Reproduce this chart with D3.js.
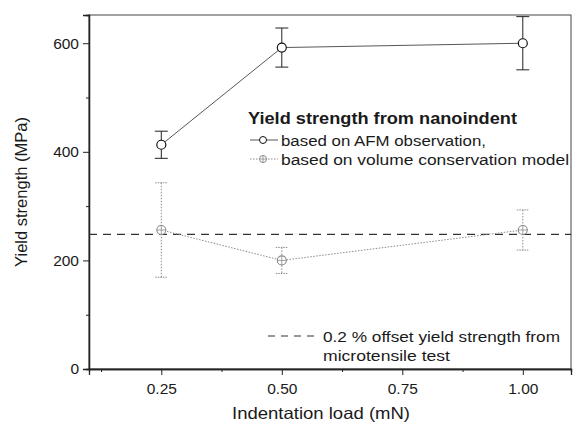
<!DOCTYPE html>
<html><head><meta charset="utf-8">
<script src="https://cdn.jsdelivr.net/npm/d3@7/dist/d3.min.js"></script>
<style>body{margin:0;background:#fff}svg{display:block}text{font-family:"Liberation Sans",Arial,sans-serif;fill:#1a1a1a}</style>
</head><body><svg id="c" width="575" height="432"></svg>
<script>
const loads = [0.25, 0.50, 1.00];
const afmValues = [413, 592, 600];
const afmErrors = [25, 36, 49];
const volValues = [256, 200, 256];
const volErrors = [87, 24, 37];
const tensileYield = 248;
const xTicks = [0.25, 0.50, 0.75, 1.00];
const xMinorTicks = [0.125, 0.375, 0.625, 0.875];
const yTicks = [0, 200, 400, 600];
const yMinorTicks = [100, 300, 500];
const legendTitle = "Yield strength from nanoindent";
const seriesNames = ["based on AFM observation,", "based on volume conservation model"];
const refNames = ["0.2 % offset yield strength from", "microtensile test"];

const W = 575, H = 432, m = {l: 89, r: 4, t: 15, b: 63};
const svg = d3.select("#c");
const x = d3.scaleLinear().domain([0.1, 1.1]).range([m.l, W - m.r]);
const y = d3.scaleLinear().domain([0, 652]).range([H - m.b, m.t]);

// frame
svg.append("rect").attr("x", m.l).attr("y", m.t).attr("width", W - m.r - m.l).attr("height", H - m.b - m.t)
  .attr("fill", "none").attr("stroke", "#444").attr("stroke-width", 1);

// axes
const xAx = svg.append("g").attr("transform", `translate(0,${H - m.b})`)
  .call(d3.axisBottom(x).tickValues(xTicks).tickFormat(d3.format(".2f")).tickSize(6).tickPadding(8));
const xMin = svg.append("g").attr("transform", `translate(0,${H - m.b})`)
  .call(d3.axisBottom(x).tickValues(xMinorTicks).tickFormat("").tickSize(3));
const yAx = svg.append("g").attr("transform", `translate(${m.l},0)`)
  .call(d3.axisLeft(y).tickValues(yTicks).tickSize(6).tickPadding(4));
const yMin = svg.append("g").attr("transform", `translate(${m.l},0)`)
  .call(d3.axisLeft(y).tickValues(yMinorTicks).tickFormat("").tickSize(3));
[xAx, xMin, yAx, yMin].forEach(g => {
  g.select(".domain").attr("stroke", "#222").attr("stroke-width", 1.3);
  g.selectAll(".tick line").attr("stroke", "#222");
  g.selectAll("text").style("font-size", "15.5px").attr("fill", "#1a1a1a");
});

// axis titles
svg.append("text").attr("x", 232).attr("y", 419).attr("textLength", 178).attr("lengthAdjust", "spacingAndGlyphs")
  .style("font-size", "16.5px").text("Indentation load (mN)");
svg.append("text").attr("transform", `translate(27,${(m.t + H - m.b) / 2}) rotate(-90)`)
  .attr("text-anchor", "middle").style("font-size", "16.5px").text("Yield strength (MPa)");

// reference dashed line
svg.append("line").attr("x1", m.l).attr("x2", W - m.r).attr("y1", y(tensileYield)).attr("y2", y(tensileYield))
  .attr("stroke", "#333").attr("stroke-width", 1.2).attr("stroke-dasharray", "8,6");

const afm = loads.map((d, i) => ({x: d, v: afmValues[i], e: afmErrors[i]}));
const vol = loads.map((d, i) => ({x: d, v: volValues[i], e: volErrors[i]}));
const line = d3.line().x(d => x(d.x)).y(d => y(d.v));

// volume series (gray dotted)
const gray = "#8a8a8a";
svg.append("path").datum(vol).attr("d", line).attr("fill", "none").attr("stroke", gray)
  .attr("stroke-width", 1).attr("stroke-dasharray", "1.5,1.5");
const vg = svg.append("g").selectAll("g").data(vol).join("g");
vg.append("line").attr("x1", d => x(d.x)).attr("x2", d => x(d.x)).attr("y1", d => y(d.v + d.e)).attr("y2", d => y(d.v - d.e))
  .attr("stroke", gray).attr("stroke-dasharray", "1.5,1.5");
[1, -1].forEach(s => vg.append("line").attr("x1", d => x(d.x) - 6).attr("x2", d => x(d.x) + 6)
  .attr("y1", d => y(d.v + s * d.e)).attr("y2", d => y(d.v + s * d.e)).attr("stroke", gray).attr("stroke-dasharray", "1.5,1"));
vg.append("circle").attr("cx", d => x(d.x)).attr("cy", d => y(d.v)).attr("r", 4.5).attr("fill", "#fff").attr("stroke", gray).attr("stroke-width", 1.1);
vg.append("path").attr("d", d => `M${x(d.x) - 4.5},${y(d.v)}h9M${x(d.x)},${y(d.v) - 4.5}v9`).attr("stroke", gray).attr("stroke-width", 0.8);

// AFM series
svg.append("path").datum(afm).attr("d", line).attr("fill", "none").attr("stroke", "#444").attr("stroke-width", 0.9);
const ag = svg.append("g").selectAll("g").data(afm).join("g");
ag.append("line").attr("x1", d => x(d.x)).attr("x2", d => x(d.x)).attr("y1", d => y(d.v + d.e)).attr("y2", d => y(d.v - d.e)).attr("stroke", "#222");
[1, -1].forEach(s => ag.append("line").attr("x1", d => x(d.x) - 6.5).attr("x2", d => x(d.x) + 6.5)
  .attr("y1", d => y(d.v + s * d.e)).attr("y2", d => y(d.v + s * d.e)).attr("stroke", "#222"));
ag.append("circle").attr("cx", d => x(d.x)).attr("cy", d => y(d.v)).attr("r", 4.5).attr("fill", "#fff").attr("stroke", "#111").attr("stroke-width", 1.2);

// legend
svg.append("text").attr("x", 248).attr("y", 124).attr("textLength", 269).attr("lengthAdjust", "spacingAndGlyphs")
  .style("font-size", "16.5px").style("font-weight", "bold").text(legendTitle);
const ly = [140, 159];
svg.append("line").attr("x1", 250).attr("x2", 278).attr("y1", ly[0]).attr("y2", ly[0]).attr("stroke", "#444").attr("stroke-width", 0.9);
svg.append("circle").attr("cx", 263).attr("cy", ly[0]).attr("r", 3.5).attr("fill", "#fff").attr("stroke", "#111");
svg.append("line").attr("x1", 250).attr("x2", 278).attr("y1", ly[1]).attr("y2", ly[1]).attr("stroke", gray).attr("stroke-dasharray", "1.5,1.5");
svg.append("circle").attr("cx", 263).attr("cy", ly[1]).attr("r", 3.5).attr("fill", "#fff").attr("stroke", gray);
svg.append("path").attr("d", `M259.5,${ly[1]}h7M263,${ly[1] - 3.5}v7`).attr("stroke", gray).attr("stroke-width", 0.8);
const seriesWidths = [205, 288];
seriesNames.forEach((t, i) => svg.append("text").attr("x", 281).attr("y", ly[i] + 5.5)
  .attr("textLength", seriesWidths[i]).attr("lengthAdjust", "spacingAndGlyphs").style("font-size", "15.5px").text(t));

svg.append("line").attr("x1", 268).attr("x2", 318).attr("y1", 336).attr("y2", 336)
  .attr("stroke", "#333").attr("stroke-width", 1.2).attr("stroke-dasharray", "7,6");
const refWidths = [237, 127];
refNames.forEach((t, i) => svg.append("text").attr("x", 323).attr("y", 341.5 + i * 19)
  .attr("textLength", refWidths[i]).attr("lengthAdjust", "spacingAndGlyphs").style("font-size", "15.5px").text(t));
</script></body></html>
